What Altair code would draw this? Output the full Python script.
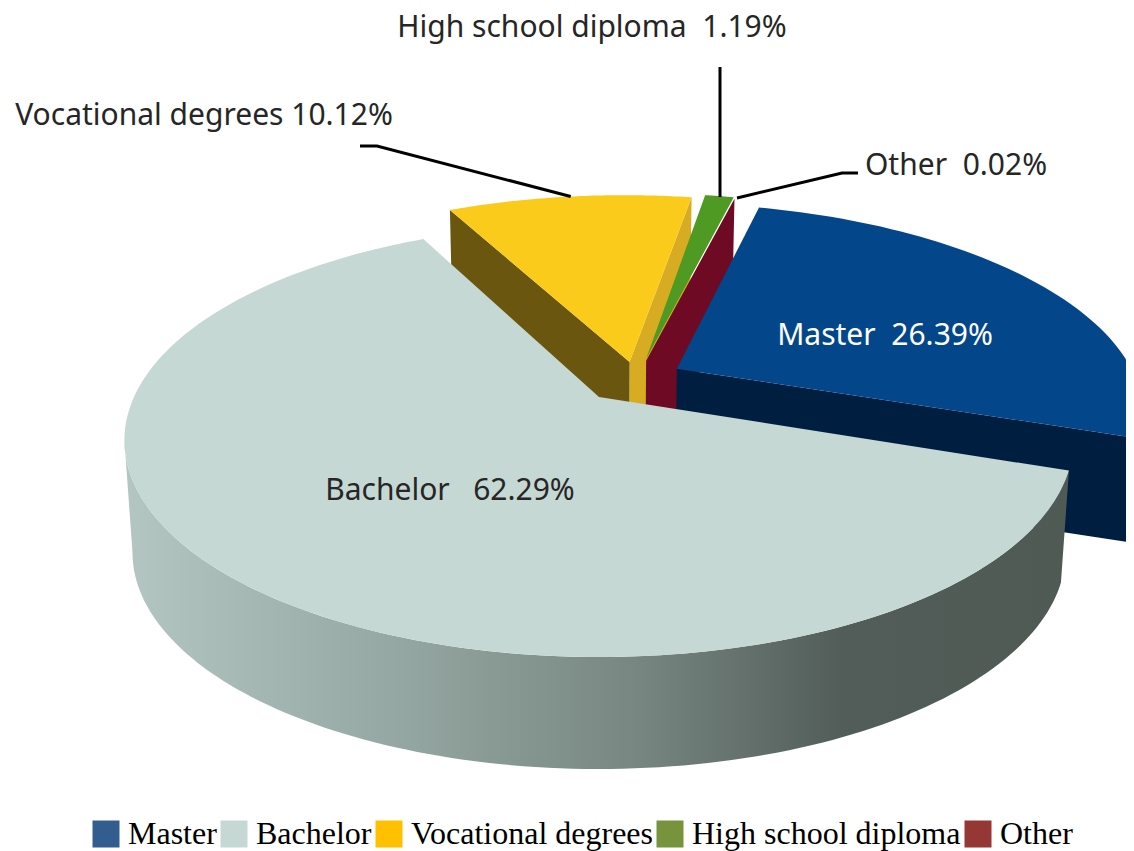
import math
import altair as alt
import pandas as pd

# ---- chart values
categories = ["Master", "Bachelor", "Vocational degrees", "High school diploma", "Other"]
shares = [26.39, 62.29, 10.12, 1.19, 0.02]
label_gaps = ["\u00a0\u00a0", "\u00a0\u00a0\u00a0", " ", "\u00a0\u00a0", "\u00a0\u00a0"]
legend_colors = ["#335C8F", "#C5D8D3", "#FFC000", "#77933C", "#953735"]

# ---- styles
top_colors = {"Master": "#03468A", "Bachelor": "#C5D8D3", "Vocational degrees": "#FBCB1B",
              "High school diploma": "#4F9A22"}
wall_colors = {"Master": "#001E40", "voc_left": "#6B560F", "voc_right": "#D8AC22", "Other": "#6E0A24"}

# ---- tilted-disc geometry (perspective projection of a circle)
CX, CY, R, RK, P = 599, 397, 465, 208, 0.2
SHRINK = 0.983
START = 19.3  # degrees, Bachelor's first edge
SILHOUETTE = 180 - math.degrees(math.asin(P))  # where the disc's left outline turns

# explode offsets per slice in disc units, with radius factor
explode = {"Bachelor": (0, 0, 1.0), "Vocational degrees": (0.068, -0.174, 1.03),
           "High school diploma": (0.105, -0.19, 1.03), "Other": (0.105, -0.18, 1.03),
           "Master": (0.172, -0.14, 1.005)}

# angular spans from the shares, clockwise on screen
spans = {}
a = START
for name in ["Bachelor", "Vocational degrees", "High school diploma", "Other", "Master"]:
    s = shares[categories.index(name)] * 3.6
    spans[name] = (a, a + s)
    a += s


def proj(name, ang=None):
    u0, v0, r = explode[name]
    u, v = u0, v0
    if ang is not None:
        u += r * math.cos(math.radians(ang))
        v += r * math.sin(math.radians(ang))
    s = 1 / (1 - P * v)
    return (CX + R * u * s, CY + RK * v * s)


def down(pt, h=110):
    return (CX + (pt[0] - CX) * SHRINK, pt[1] + h)


def arc(name, a0, a1, n=60):
    return [proj(name, a0 + (a1 - a0) * k / n) for k in range(n + 1)]


def scaled(pts):
    return pd.DataFrame({"x": [p[0] for p in pts], "y": [p[1] for p in pts], "i": range(len(pts))})


X = alt.X("x:Q", axis=None, scale=alt.Scale(domain=[8, 1126], nice=False, zero=False))
Y = alt.Y("y:Q", axis=None, scale=alt.Scale(domain=[851, 8], nice=False, zero=False))


def poly(pts, fill):
    return alt.Chart(scaled(pts)).mark_line(fill=fill, strokeWidth=0, clip=True, interpolate="linear").encode(
        x=X, y=Y, order="i:Q")


def quad(name, ang, h=110):
    apex, corner = proj(name), proj(name, ang)
    return [apex, corner, down(corner, h), down(apex, h)]


def leader(pts):
    return alt.Chart(scaled(pts)).mark_line(color="#000000", strokeWidth=3).encode(x=X, y=Y, order="i:Q")


layers = []
v_a0, v_a1 = spans["Vocational degrees"]
layers.append(poly(quad("Vocational degrees", v_a1), wall_colors["voc_right"]))
layers.append(poly(quad("Vocational degrees", v_a0), wall_colors["voc_left"]))
layers.append(poly([proj("Vocational degrees")] + arc("Vocational degrees", v_a0, v_a1), top_colors["Vocational degrees"]))

d_a0, d_a1 = spans["High school diploma"]
layers.append(poly(quad("Other", spans["Other"][1]), wall_colors["Other"]))
layers.append(poly([proj("High school diploma")] + arc("High school diploma", d_a0, d_a1), top_colors["High school diploma"]))

m_a0, m_a1 = spans["Master"]
m_arc_front = arc("Master", 360, m_a1, 20)
layers.append(poly(m_arc_front + [down(p, 104) for p in reversed(m_arc_front)], wall_colors["Master"]))
layers.append(poly(quad("Master", m_a1, 104), wall_colors["Master"]))
layers.append(poly([proj("Master")] + arc("Master", m_a0, m_a1), top_colors["Master"]))

b_a0, b_a1 = spans["Bachelor"]
b_front = arc("Bachelor", b_a0, SILHOUETTE, 120)
gradient = alt.Gradient(gradient="linear", x1=0, x2=1, y1=0, y2=0,
                        stops=[alt.GradientStop(offset=0, color="#B4C6C1"),
                               alt.GradientStop(offset=0.3, color="#94A6A1"),
                               alt.GradientStop(offset=0.55, color="#76857F"),
                               alt.GradientStop(offset=0.76, color="#525D59"),
                               alt.GradientStop(offset=1, color="#4F5A55")])
layers.append(poly(b_front + [down(p, 112) for p in reversed(b_front)], gradient))
layers.append(poly([proj("Bachelor")] + arc("Bachelor", b_a0, b_a1, 200), top_colors["Bachelor"]))

# leader lines: start on the slice rim, end at the label
layers.append(leader([proj("Vocational degrees", 262), (377, 146), (360, 146)]))
layers.append(leader([(720, 197), (720, 67)]))
layers.append(leader([(737, 198), (842, 173), (858, 173)]))

# slice labels
texts = pd.DataFrame([{"name": n, "label": f"{n}{g}{s:.2f}%"} for n, g, s in zip(categories, label_gaps, shares)])
anchors = {"Master": (885, 336, "#FFFFFF"), "Bachelor": (450, 491, "#262626"),
           "Vocational degrees": (204, 116, "#262626"), "High school diploma": (592, 28, "#262626"),
           "Other": (956, 166, "#262626")}
texts["x"] = texts["name"].map(lambda n: anchors[n][0])
texts["y"] = texts["name"].map(lambda n: anchors[n][1])
texts["c"] = texts["name"].map(lambda n: anchors[n][2])
layers.append(alt.Chart(texts).mark_text(font="Noto Sans", fontSize=30, baseline="middle", align="center").encode(
    x=X, y=Y, text="label:N", color=alt.Color("c:N", scale=None, legend=None)))

# legend
legend_df = pd.DataFrame({"name": categories, "x": [93] * 5, "y": [833] * 5})
layers.append(alt.Chart(legend_df).mark_square(size=0).encode(
    x=X, y=Y,
    fill=alt.Fill("name:N", sort=categories, scale=alt.Scale(domain=categories, range=legend_colors),
                  legend=alt.Legend(orient="none", legendX=82, legendY=810, direction="horizontal", columns=5,
                                    title=None, symbolType="square", symbolSize=729, symbolStrokeWidth=0,
                                    symbolOpacity=1, labelFont="Liberation Serif", labelFontSize=32,
                                    labelColor="#000000", labelLimit=400, labelOffset=6, columnPadding=1,
                                    padding=0, symbolOffset=0))))

chart = alt.layer(*layers).properties(
    width=1118, height=843, padding=0, autosize=alt.AutoSizeParams(type="none"), background="#FFFFFF"
).configure_view(stroke=None)

chart.save("out.html", embed_options={"renderer": "svg", "actions": False})
